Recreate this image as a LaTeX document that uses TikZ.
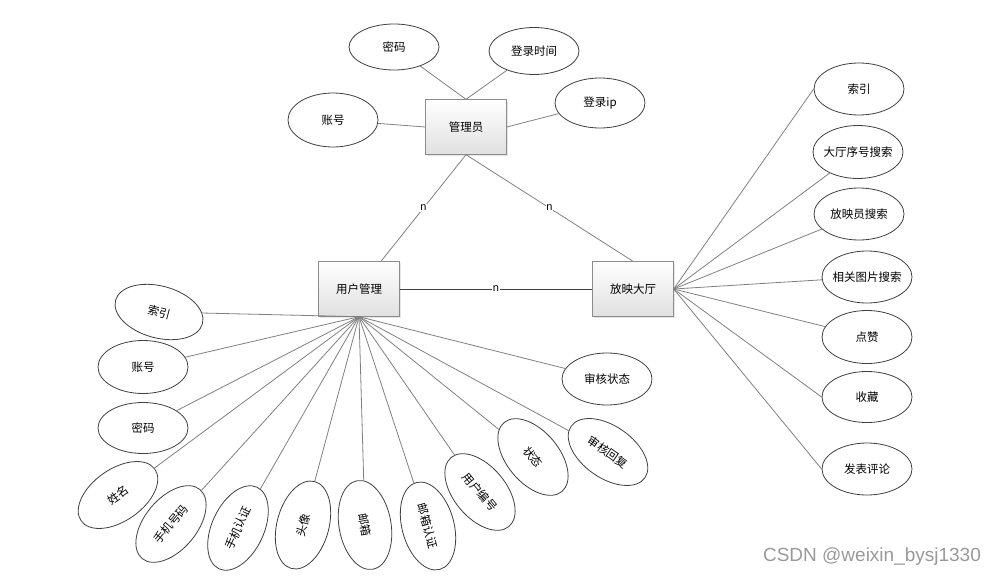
\documentclass[tikz,border=0pt]{standalone}
\usepackage{fontspec}
\usepackage{tikz}
\usetikzlibrary{shapes.geometric,shadows}
\newfontfamily\cjk{Noto Sans CJK SC}
\newfontfamily\wmfont{Liberation Sans}

\tikzset{
  entity/.style={draw=black!45,rectangle,minimum width=81pt,minimum height=55pt,
    top color=white,bottom color=black!12,
    drop shadow={opacity=0.2,shadow xshift=1.2pt,shadow yshift=-1.2pt},
    font=\cjk\fontsize{11.5}{14}\selectfont},
  attr/.style={draw=black!75,fill=white,ellipse,minimum width=90pt,minimum height=52pt,
    inner xsep=-20pt,inner ysep=0pt,line width=0.8pt,
    font=\cjk\fontsize{11.5}{14}\selectfont},
  link/.style={draw=black!50,line width=0.8pt},
  rel/.style={fill=white,inner sep=0.6pt,font=\wmfont\fontsize{11}{12}\selectfont}
}

\begin{document}
\begin{tikzpicture}[x=1pt,y=-1pt]
\useasboundingbox (0,0) rectangle (998,578);

\node[entity] (adm) at (466,127) {管理员};
\node[entity] (user) at (359,289) {用户管理};
\node[entity] (hall) at (633,289) {放映大厅};

\node[attr,minimum height=46pt] (a1) at (394,47) {密码};
\node[attr,minimum height=47pt] (a2) at (534,51) {登录时间};
\node[attr,minimum height=50pt] (a3) at (600,103) {登录ip};
\node[attr,minimum height=54pt] (a4) at (333,120) {账号};

\node[attr] (h1) at (859,89) {索引};
\node[attr,minimum height=53pt] (h2) at (858,152) {大厅序号搜索};
\node[attr] (h3) at (859,214) {放映员搜索};
\node[attr] (h4) at (867,277) {相关图片搜索};
\node[attr,minimum height=53pt] (h5) at (867,337) {点赞};
\node[attr,minimum height=51pt] (h6) at (867,397) {收藏};
\node[attr] (h7) at (867,469) {发表评论};

\node[attr,rotate=-15] (u1) at (159,312) {索引};
\node[attr,minimum height=53pt] (u2) at (143,367) {账号};
\node[attr,minimum height=51pt] (u3) at (143,428) {密码};
\node[attr,rotate=35] (u4) at (118,495) {姓名};
\node[attr,rotate=50] (u5) at (171,524) {手机号码};
\node[attr,rotate=65] (u6) at (238,528) {手机认证};
\node[attr,rotate=75] (u7) at (303,525) {头像};
\node[attr,rotate=-80] (u8) at (365,525) {邮箱};
\node[attr,rotate=-75] (u9) at (428,526) {邮箱认证};
\node[attr,rotate=-50] (u10) at (480,492) {用户编号};
\node[attr,rotate=-50] (u11) at (533,457) {状态};
\node[attr,rotate=-35] (u12) at (608,452) {审核回复};
\node[attr] (u13) at (607,379) {审核状态};

\draw[link] (a1) -- (adm.north);
\draw[link] (a2) -- (adm.north);
\draw[link] (a3) -- (adm.east);
\draw[link] (a4) -- (adm.west);

\draw[link] (adm.south) -- (user) node[rel,midway] {n};
\draw[link] (adm.south) -- (hall.north) node[rel,midway] {n};
\draw[link,draw=black!75] (user) -- (hall) node[rel,midway] {n};

\draw[link] (hall.east) -- (h1.west);
\foreach \i in {2,3,4,5}
  \draw[link] (hall.east) -- (h\i);
\draw[link] (hall.east) -- (h6.west);
\draw[link] (hall.east) -- (h7.west);

\foreach \i in {1,...,13}
  \draw[link] (user.south) -- (u\i);

\node[text=black!40,font=\wmfont\fontsize{19}{22}\selectfont] (wm) at (872,557) {CSDN @weixin\_bysj1330};
\end{tikzpicture}
\end{document}
